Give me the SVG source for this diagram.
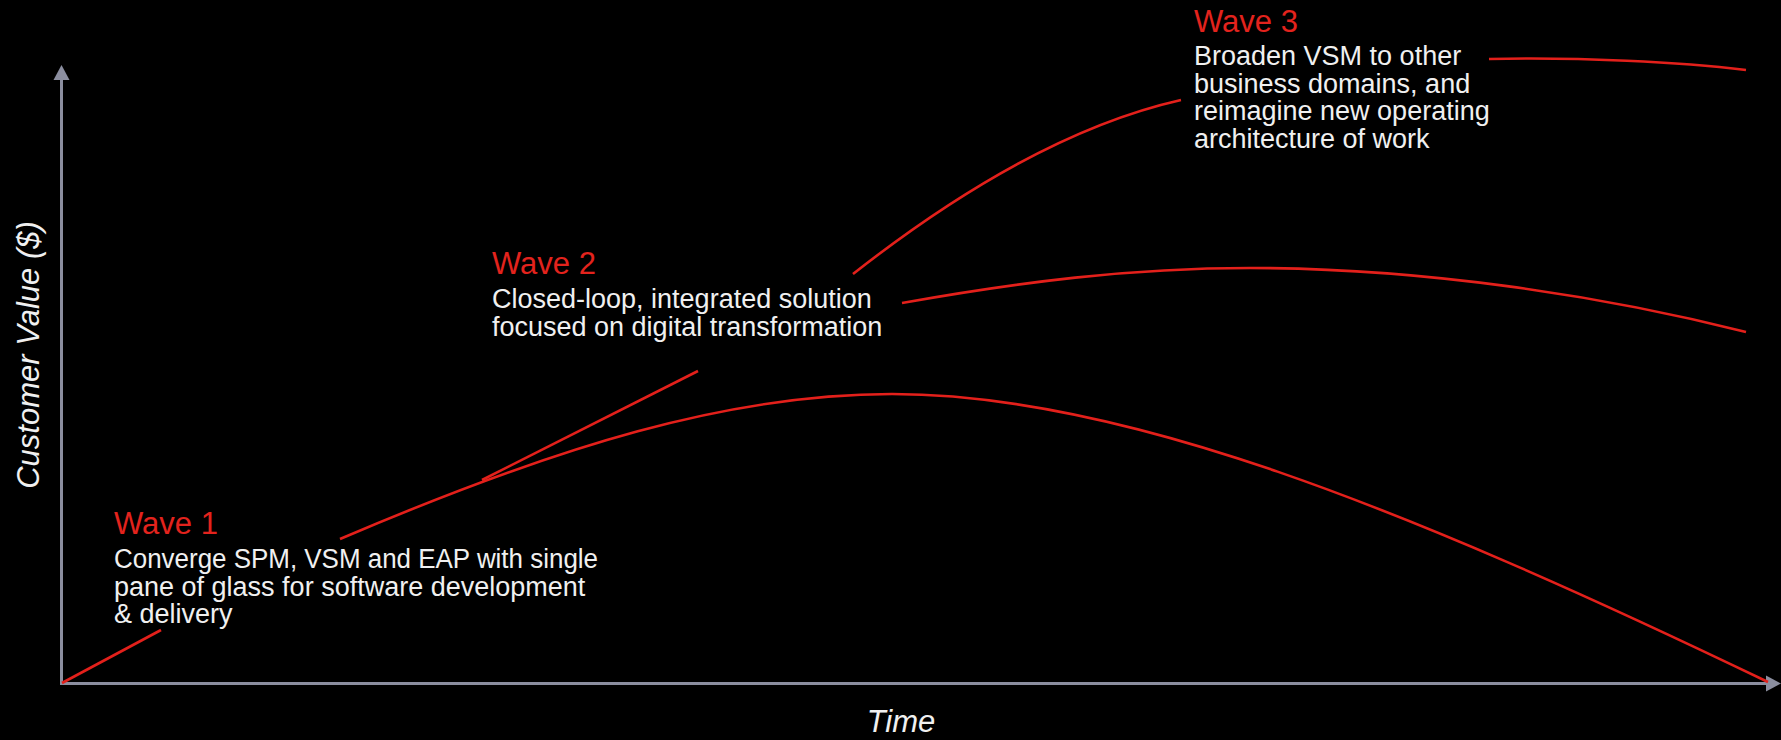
<svg xmlns="http://www.w3.org/2000/svg" width="1781" height="740" viewBox="0 0 1781 740">
  <style>
    .axis { stroke: #8b8e9f; stroke-width: 3; fill: none; }
    .head { fill: #8b8e9f; }
    .curve { stroke: #e3201b; stroke-width: 2.6; fill: none; stroke-linecap: butt; }
    .title { font-family: "Liberation Sans", Arial, sans-serif; font-size: 31px; fill: #e3231d; }
    .body { font-family: "Liberation Sans", Arial, sans-serif; font-size: 27px; fill: #f0f0f0; }
    .axlabel { font-family: "Liberation Sans", Arial, sans-serif; font-size: 31px; font-style: italic; fill: #f0f0f0; }
  </style>
  <rect x="0" y="0" width="1781" height="740" fill="#000000"/>

  <g id="axes">
    <line class="axis" x1="61.5" y1="684" x2="61.5" y2="78"/>
    <polygon class="head" points="61.5,65 53.5,80 69.5,80"/>
    <line class="axis" x1="60" y1="683.5" x2="1768" y2="683.5"/>
    <polygon class="head" points="1781,683.5 1766,675.5 1766,691.5"/>
    <text class="axlabel" x="901" y="732" text-anchor="middle">Time</text>
    <text class="axlabel" transform="translate(39,355) rotate(-90)" x="0" y="0" text-anchor="middle">Customer Value ($)</text>
  </g>

  <g id="connectors">
    <!-- Wave 1 curve -->
    <path class="curve" d="M62,683 L161,630"/>
    <path class="curve" d="M340,539 C560,445 730,394 892,394 C1120,394 1400,505 1768,682"/>
    <!-- Wave 2 curve -->
    <path class="curve" d="M482,480 L698,371"/>
    <path class="curve" d="M902,303 C1020,282 1130,268 1250,268 C1420,268 1600,295 1746,332"/>
    <!-- Wave 3 curve -->
    <path class="curve" d="M853,274 C960,190 1070,125 1181,100"/>
    <path class="curve" d="M1489,59 C1580,57 1680,62 1746,70"/>
  </g>

  <g id="wave1">
    <text class="title" x="114" y="534">Wave 1</text>
    <text class="body" x="114" y="568" textLength="484" lengthAdjust="spacingAndGlyphs">Converge SPM, VSM and EAP with single</text>
    <text class="body" x="114" y="595.5">pane of glass for software development</text>
    <text class="body" x="114" y="623">&amp; delivery</text>
  </g>

  <g id="wave2">
    <text class="title" x="492" y="274">Wave 2</text>
    <text class="body" x="492" y="308">Closed-loop, integrated solution</text>
    <text class="body" x="492" y="335.5">focused on digital transformation</text>
  </g>

  <g id="wave3">
    <text class="title" x="1194" y="32">Wave 3</text>
    <text class="body" x="1194" y="65">Broaden VSM to other</text>
    <text class="body" x="1194" y="92.5">business domains, and</text>
    <text class="body" x="1194" y="120">reimagine new operating</text>
    <text class="body" x="1194" y="147.5">architecture of work</text>
  </g>
</svg>
